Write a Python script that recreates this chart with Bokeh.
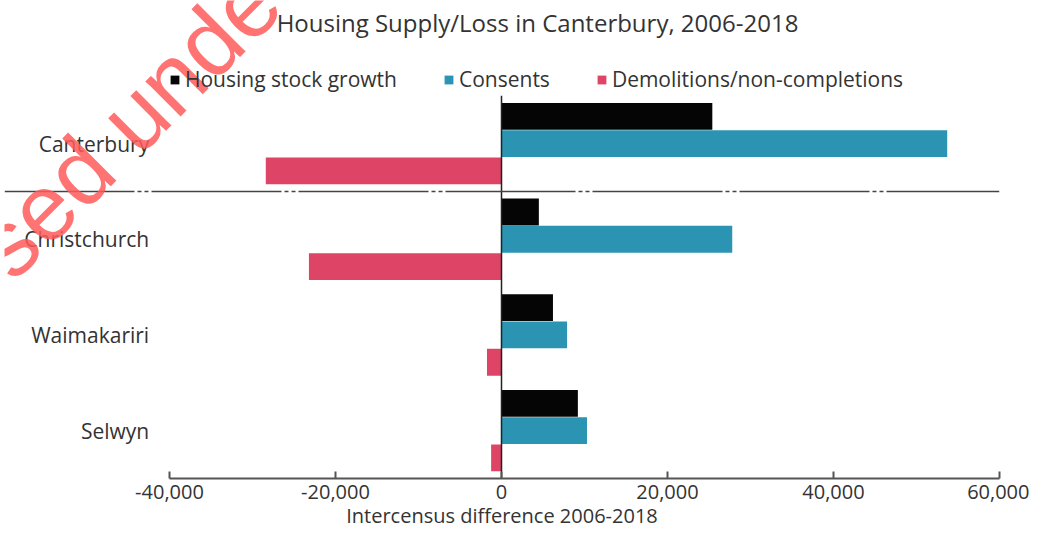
from bokeh.plotting import figure
from bokeh.models import (ColumnDataSource, Range1d, Span, FixedTicker,
                          NumeralTickFormatter, Label)
from bokeh.transform import dodge
from bokeh.core.properties import value
from bokeh.embed import file_html
from bokeh.resources import INLINE

# ---- data ----
regions = ["Canterbury", "Christchurch", "Waimakariri", "Selwyn"]
stock_growth = [25400, 4500, 6200, 9200]
consents = [53700, 27800, 7900, 10300]
demolitions = [-28400, -23200, -1750, -1250]
x_ticks = [-40000, -20000, 0, 20000, 40000, 60000]
series_names = ["Housing stock growth", "Consents", "Demolitions/non-completions"]
series_colors = ["#050505", "#2a94b2", "#de4466"]
title_text = "Housing Supply/Loss in Canterbury, 2006-2018"
x_label = "Intercensus difference 2006-2018"
watermark = "sed unde"

FONT = "Open Sans"
TXT = "#333333"

n = len(regions)
ypos = [n - 1 - i for i in range(n)]   # Canterbury on top
src = ColumnDataSource(dict(region=regions, y=ypos, stock=stock_growth,
                            consents=consents, demol=demolitions))

p = figure(width=1029, height=531, output_backend="svg", toolbar_location=None,
           x_range=Range1d(-59880, 60000), y_range=Range1d(-0.5, 4.495),
           y_axis_location=None, title_location=None,
           min_border_left=4, min_border_right=30, min_border_top=0,
           min_border_bottom=53)
p.outline_line_color = None
p.grid.visible = False
p.background_fill_color = "white"

# bars
bh = 0.28
offs = [0.285, 0.0, -0.285]
cols = ["stock", "consents", "demol"]
for name, col, color, off in zip(series_names, cols, series_colors, offs):
    p.hbar(y=dodge("y", off), left=0, right=col,
           height=bh, source=src, fill_color=color, line_color=None,
           legend_label=name)

# zero line over the category bands, and separator below the total
p.segment(x0=[0], x1=[0], y0=[-0.5], y1=[n - 0.5], line_color="#222222", line_width=1.5)
p.add_layout(Span(location=n - 1.5, dimension="width", line_color="#444444",
                  line_width=1.5, line_dash="130 3 4 3 4 3"))

# category labels
LABEL_X = -42450
p.text(x=[LABEL_X] * n, y=ypos, text=regions,
       text_align="right", text_baseline="middle", text_font=value(FONT),
       text_font_size="21px", text_color=TXT)

# x axis
ax = p.xaxis[0]
ax.ticker = FixedTicker(ticks=x_ticks)
ax.formatter = NumeralTickFormatter(format="0,0")
ax.bounds = (x_ticks[0], x_ticks[-1])
ax.axis_line_color = "#555555"
ax.axis_line_width = 2
ax.major_tick_in = 7
ax.major_tick_out = 0
ax.major_tick_line_color = "#555555"
ax.major_tick_line_width = 2
ax.minor_tick_line_color = None
ax.major_label_text_font = FONT
ax.major_label_text_font_size = "20px"
ax.major_label_text_color = TXT
ax.major_label_standoff = 6
ax.axis_label = x_label
ax.axis_label_text_font = FONT
ax.axis_label_text_font_size = "20px"
ax.axis_label_text_font_style = "normal"
ax.axis_label_text_color = TXT
ax.axis_label_standoff = 0

# legend
lg = p.legend[0]
lg.orientation = "horizontal"
lg.location = (165, 385)
lg.padding = 0
lg.margin = 0
lg.border_line_color = None
lg.background_fill_alpha = 0
lg.glyph_width = 11
lg.glyph_height = 11
lg.label_standoff = 5
lg.spacing = 46
lg.label_text_font = FONT
lg.label_text_font_size = "21px"
lg.label_text_color = TXT

# title (inside the frame area, above the bars)
p.add_layout(Label(x=533, y=456, x_units="screen", y_units="screen",
                   text=title_text, text_font=FONT, text_font_size="24px",
                   text_color=TXT, text_align="center", text_baseline="middle"))

# watermark overlay
p.add_layout(Label(x=-14, y=218, x_units="screen", y_units="screen",
                   text=watermark, angle=45, angle_units="deg",
                   text_font="Liberation Sans", text_font_size="94px",
                   text_color="#ff5a5a", text_alpha=0.85,
                   text_align="left", text_baseline="alphabetic"))

open("out.html", "w").write(file_html(p, INLINE))
